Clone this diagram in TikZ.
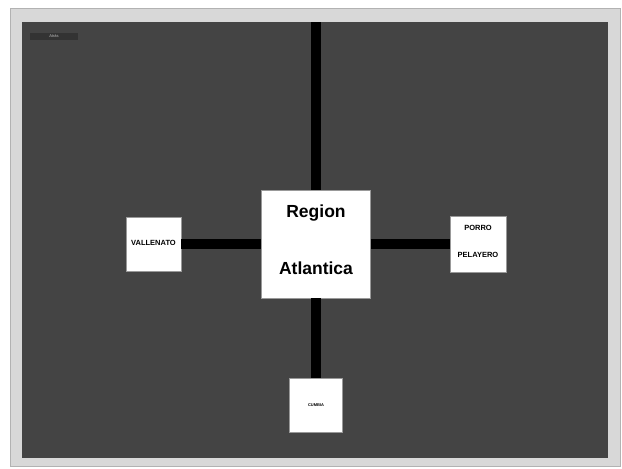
\documentclass[tikz,border=0pt]{standalone}
\usepackage{fontspec}
\setmainfont{Liberation Sans}
\definecolor{panel}{HTML}{444444}
\definecolor{frame}{HTML}{D8D8D8}
\definecolor{outer}{HTML}{FFFFFF}
\begin{document}
\begin{tikzpicture}[x=1pt,y=-1pt,
  box/.style={draw=black!40,fill=white,line width=0.6pt,inner sep=0pt},
  lbl/.style={inner sep=0pt,font=\bfseries},
  bar/.style={line width=10pt,black}]
\useasboundingbox (0,0) rectangle (622,469);
\fill[outer] (0,0) rectangle (622,469);
\fill[frame] (10,8) rectangle (620,466);
\draw[black!30,line width=0.5pt] (10,8) rectangle (620,466);
\fill[panel] (22,22) rectangle (608,458);
\node[fill=black!80,text=black!25,font=\fontsize{4}{5}\selectfont,minimum width=48,minimum height=7,inner sep=0pt] (back) at (54,36) {Atrás};
\node[box,minimum width=109,minimum height=108] (c) at (316,244) {};
\node[box,minimum width=55,minimum height=54] (v) at (153.5,244) {};
\node[box,minimum width=56,minimum height=56] (p) at (478,244) {};
\node[box,minimum width=53,minimum height=54] (cu) at (316,405) {};
\node[lbl,font=\bfseries\fontsize{17.5}{20}\selectfont] (c1) at (316,213) {Region};
\node[lbl,font=\bfseries\fontsize{17.5}{20}\selectfont] (c2) at (316,268) {Atlantica};
\node[lbl,font=\bfseries\fontsize{7.5}{8}\selectfont] (v1) at (153.5,243) {VALLENATO};
\node[lbl,font=\bfseries\fontsize{7.5}{8}\selectfont] (p1) at (478,228) {PORRO};
\node[lbl,font=\bfseries\fontsize{7.5}{8}\selectfont] (p2) at (478,255) {PELAYERO};
\node[lbl,font=\bfseries\fontsize{4}{5}\selectfont] (cu1) at (316,405) {CUMBIA};
\coordinate (top) at (316,22);
\draw[bar] (top) -- (c.north);
\draw[bar] (c.south) -- (cu.north);
\draw[bar] (v.east) -- (c.west);
\draw[bar] (c.east) -- (p.west);
\end{tikzpicture}
\end{document}
